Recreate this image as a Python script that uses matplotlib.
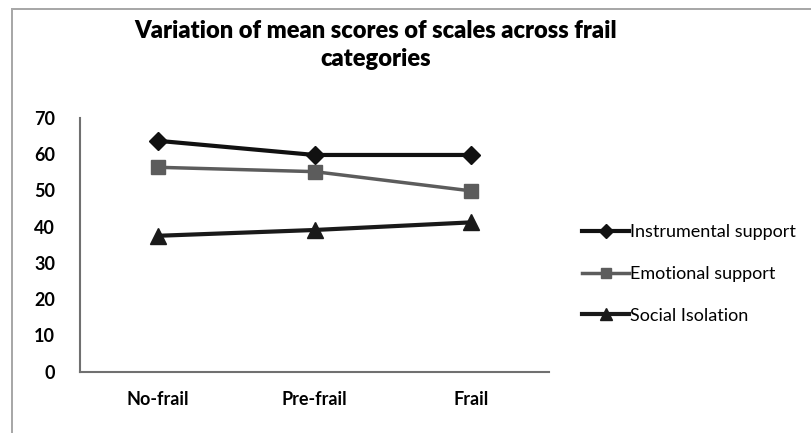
import matplotlib
matplotlib.use("Agg")
import matplotlib.pyplot as plt
from matplotlib.lines import Line2D

categories = ["No-frail", "Pre-frail", "Frail"]
instrumental = [63.7, 59.8, 59.8]
emotional = [56.4, 55.2, 49.9]
social_isolation = [37.5, 39.1, 41.2]

plt.rcParams['font.family'] = ['Lato', 'DejaVu Sans']

fig = plt.figure(figsize=(8.11, 4.33), dpi=100)
ax = fig.add_axes([80/811, (433-371.7)/433, (549-80)/811, (371.7-118)/433])

x = range(len(categories))
ax.plot(x, instrumental, color="#111111", lw=3, marker="D", ms=9, label="Instrumental support")
ax.plot(x, emotional, color="#5c5c5c", lw=2.5, marker="s", ms=10, label="Emotional support")
ax.plot(x, social_isolation, color="#1a1a1a", lw=3, marker="^", ms=11, label="Social Isolation")

ax.set_xlim(-0.5, 2.5)
ax.set_ylim(0, 70)
ax.set_yticks(range(0, 71, 10))
ax.set_xticks(list(x))
ax.set_xticklabels(categories)
ax.tick_params(length=0, labelsize=13, pad=18)
ax.tick_params(axis="x", pad=14)
for lab in ax.get_xticklabels() + ax.get_yticklabels():
    lab.set_fontweight("bold")
for s in ["top", "right"]:
    ax.spines[s].set_visible(False)
for s in ["left", "bottom"]:
    ax.spines[s].set_color("#707070")
    ax.spines[s].set_linewidth(1.5)

fig.text(376/811, 1 - 45/433, "Variation of mean scores of scales across frail\ncategories",
         ha="center", va="center", fontsize=17, fontweight="heavy", linespacing=1.35)

fig.legend(loc="center left", bbox_to_anchor=(566/811, 1 - 274/433), frameon=False,
           fontsize=13, handlelength=2.6, handletextpad=0.05, labelspacing=1.42,
           markerscale=0.75)

# grey border round the chart area, open at the right and bottom
bx = 11.5 / 811
by = 1 - 8.5 / 433
fig.add_artist(Line2D([bx, bx], [0, by], color="#a8a8a8", lw=1.2,
                      transform=fig.transFigure, zorder=10, antialiased=False))
fig.add_artist(Line2D([bx, 1], [by, by], color="#a8a8a8", lw=1.2,
                      transform=fig.transFigure, zorder=10, antialiased=False))

fig.savefig("out.png", dpi=100)
